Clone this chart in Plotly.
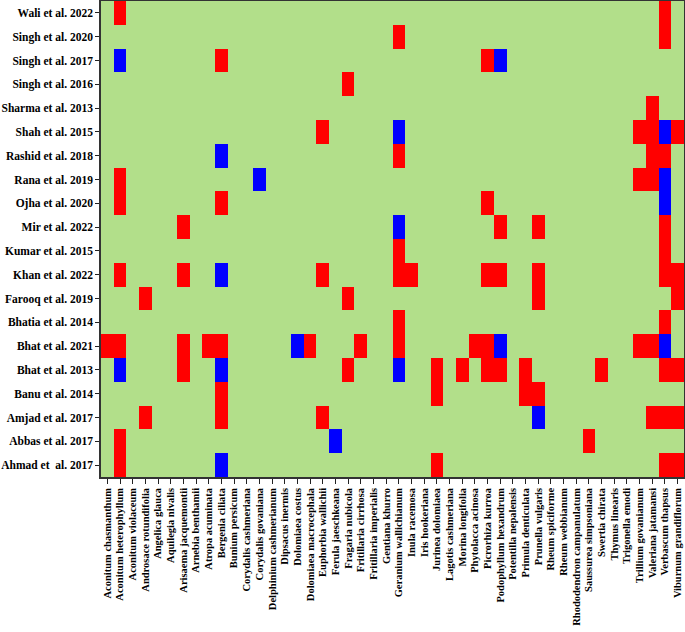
import plotly.graph_objects as go

studies = [
    "Wali et al. 2022", "Singh et al. 2020", "Singh et al. 2017", "Singh et al. 2016",
    "Sharma et al. 2013", "Shah et al. 2015", "Rashid et al. 2018", "Rana et al. 2019",
    "Ojha et al. 2020", "Mir et al. 2022", "Kumar et al. 2015", "Khan et al. 2022",
    "Farooq et al. 2019", "Bhatia et al. 2014", "Bhat et al. 2021", "Bhat et al. 2013",
    "Banu et al. 2014", "Amjad et al. 2017", "Abbas et al. 2017", "Ahmad et  al. 2017",
]

species = [
    "Aconitum chasmanthum", "Aconitum heterophyllum", "Aconitum violaceum",
    "Androsace rotundifolia", "Angelica glauca", "Aquilegia nivalis",
    "Arisaema jacquemontii", "Arnebia benthamii", "Atropa acuminata",
    "Bergenia ciliata", "Bunium persicum", "Corydalis cashmeriana",
    "Corydalis govaniana", "Delphinium cashmerianum", "Dipsacus inermis",
    "Dolomiaea costus", "Dolomiaea macrocephala", "Euphorbia wallichii",
    "Ferula jaeschkeana", "Fragaria nubicola", "Fritillaria cirrhosa",
    "Fritillaria imperialis", "Gentiana khurro", "Geranium wallichianum",
    "Inula racemosa", "Iris hookeriana", "Jurinea dolomiaea",
    "Lagotis cashmeriana", "Morina longifolia", "Phytolacca acinosa",
    "Picrorhiza kurroa", "Podophyllum hexandrum", "Potentilla nepalensis",
    "Primula denticulata", "Prunella vulgaris", "Rheum spiciforme",
    "Rheum webbianum", "Rhododendron campanulatum", "Saussurea simpsoniana",
    "Swertia chirata", "Thymus linearis", "Trigonella emodi",
    "Trillium govanianum", "Valeriana jatamansi", "Verbascum thapsus",
    "Viburnum grandiflorum",
]

# species column indices marked red (value 1) for each study, same order as studies
red_cols = [
    [1, 44],
    [23, 44],
    [9, 30],
    [19],
    [43],
    [17, 42, 43, 45],
    [23, 43, 44],
    [1, 42, 43],
    [1, 9, 30],
    [6, 31, 34, 44],
    [23, 44],
    [1, 6, 17, 23, 24, 30, 31, 34, 44, 45],
    [3, 19, 34, 45],
    [23, 44],
    [0, 1, 6, 8, 9, 16, 20, 23, 29, 30, 42, 43],
    [6, 19, 26, 28, 30, 31, 33, 39, 44, 45],
    [9, 26, 33, 34],
    [3, 9, 17, 43, 44, 45],
    [1, 38],
    [1, 26, 44, 45],
]

# species column indices marked blue (value 2) for each study
blue_cols = [
    [],
    [],
    [1, 31],
    [],
    [],
    [23, 44],
    [9],
    [12, 44],
    [44],
    [23],
    [],
    [9],
    [],
    [],
    [15, 31, 44],
    [1, 9, 23],
    [],
    [34],
    [18],
    [9],
]

z = []
for reds, blues in zip(red_cols, blue_cols):
    row = [0] * len(species)
    for c in reds:
        row[c] = 1
    for c in blues:
        row[c] = 2
    z.append(row)

green, red, blue = "#b2df8a", "#ff0000", "#0000ff"
colorscale = [
    [0.0, green], [1 / 3, green],
    [1 / 3, red], [2 / 3, red],
    [2 / 3, blue], [1.0, blue],
]

fig = go.Figure(
    go.Heatmap(
        z=z,
        x=list(range(len(species))),
        y=list(range(len(studies))),
        zmin=0,
        zmax=2,
        colorscale=colorscale,
        showscale=False,
        xgap=0,
        ygap=0,
    )
)

font_family = "Liberation Serif, Times New Roman, serif"
fig.update_layout(
    width=685,
    height=632,
    margin=dict(l=101, r=1, t=1, b=155),
    paper_bgcolor="white",
    plot_bgcolor=green,
    font=dict(family=font_family, color="black"),
)
fig.update_xaxes(
    tickmode="array",
    tickvals=list(range(len(species))),
    ticktext=species,
    range=[-0.5, len(species) - 0.5],
    tickangle=-90,
    tickfont=dict(family=font_family, size=10.5, weight="bold", color="black"),
    ticks="outside",
    ticklen=5,
    tickcolor="#222",
    showline=True,
    linecolor="#333",
    linewidth=1.5,
    mirror=True,
    showgrid=False,
    zeroline=False,
    automargin=False,
)
fig.update_yaxes(
    tickmode="array",
    tickvals=list(range(len(studies))),
    ticktext=studies,
    range=[len(studies) - 0.5, -0.5],
    tickfont=dict(family=font_family, size=11.5, weight="bold", color="black"),
    ticks="outside",
    ticklen=4,
    tickcolor="#222",
    showline=True,
    linecolor="#333",
    linewidth=1.5,
    mirror=True,
    showgrid=False,
    zeroline=False,
    automargin=False,
)

fig.write_html(
    "out.html",
    config={"displayModeBar": False},
    post_script="document.body.style.margin='0';document.body.style.overflow='hidden';",
)
